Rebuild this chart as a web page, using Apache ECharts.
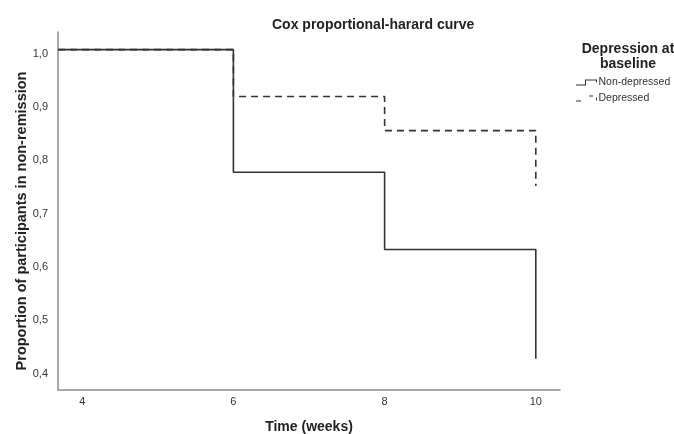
<!DOCTYPE html>
<html><head><meta charset="utf-8">
<script src="https://cdn.jsdelivr.net/npm/echarts@6/dist/echarts.min.js"></script>
<style>html,body{margin:0;padding:0;background:#fff}#c{width:674px;height:434px}</style>
</head><body><div id="c"></div>
<script>
const times = [3.68, 6, 8, 10];
const nonDepressed = [1.0, 0.77, 0.625, 0.42];
const depressed = [1.0, 0.912, 0.848, 0.744];
const xTicks = [4, 6, 8, 10];
const yTicks = [0.4, 0.5, 0.6, 0.7, 0.8, 0.9, 1.0];
const seriesNames = ['Non-depressed', 'Depressed'];

const font = 'Arial, "Liberation Sans", sans-serif';
const lineColor = '#333';
const solidIcon = 'path://M0,5 L9,5 L9,0 L21,0 L21,3 L20,3 L20,1 L10,1 L10,6 L0,6 Z';
const dashIcon = 'path://M0,5 L5,5 L5,6 L0,6 Z M13,0 L17,0 L17,1 L13,1 Z M20,2 L21,2 L21,5 L20,5 Z';

const chart = echarts.init(document.getElementById('c'));
chart.setOption({
  animation: false,
  backgroundColor: '#fff',
  textStyle: { fontFamily: font },
  title: [
    { text: 'Cox proportional-harard curve', left: 267, top: 13,
      textStyle: { fontFamily: font, fontSize: 14, fontWeight: 'bold', color: '#222' } },
    { text: 'Depression at\nbaseline', left: 623, top: 37, textAlign: 'center',
      textStyle: { fontFamily: font, fontSize: 14, fontWeight: 'bold', color: '#222', lineHeight: 15 } }
  ],
  legend: {
    orient: 'vertical', left: 571, top: 72, itemGap: 5, itemWidth: 22, itemHeight: 6,
    textStyle: { fontFamily: font, fontSize: 10.5, color: '#333', padding: [0, 0, 0, -4] },
    data: [
      { name: seriesNames[0], icon: solidIcon, itemStyle: { color: lineColor, borderWidth: 0 } },
      { name: seriesNames[1], icon: dashIcon, itemStyle: { color: lineColor, borderWidth: 0 } }
    ]
  },
  grid: { left: 58, right: 114, top: 32, bottom: 44, outerBoundsMode: 'none', containLabel: false },
  xAxis: {
    type: 'value', min: 3.68, max: 10.32,
    name: 'Time (weeks)', nameLocation: 'middle', nameGap: 30, nameMoveOverlap: false,
    nameTextStyle: { fontFamily: font, fontSize: 14, fontWeight: 'bold', color: '#222' },
    axisLine: { show: true, lineStyle: { color: '#8c8c8c', width: 1.5 } },
    axisTick: { show: false },
    splitLine: { show: false },
    axisLabel: { customValues: xTicks, color: '#333', fontSize: 11, margin: 6, fontFamily: font }
  },
  yAxis: {
    type: 'value', min: 0.3615, max: 1.033,
    name: 'Proportion of participants in non-remission', nameLocation: 'middle', nameGap: 29, nameMoveOverlap: false,
    nameTextStyle: { fontFamily: font, fontSize: 14.5, fontWeight: 'bold', color: '#222', padding: [0, 20, 0, 0] },
    axisLine: { show: true, lineStyle: { color: '#8c8c8c', width: 1.5 } },
    axisTick: { show: false },
    splitLine: { show: false },
    axisLabel: { customValues: yTicks, color: '#333', fontSize: 11, margin: 10, fontFamily: font,
      verticalAlign: 'top', lineHeight: 8,
      formatter: v => v.toFixed(1).replace('.', ',') }
  },
  series: [
    { name: seriesNames[0], type: 'line', step: 'end', showSymbol: false, symbol: 'none',
      data: times.map((t, i) => [t, nonDepressed[i]]),
      lineStyle: { color: lineColor, width: 1.6 }, itemStyle: { color: lineColor }, z: 3 },
    { name: seriesNames[1], type: 'line', step: 'end', showSymbol: false, symbol: 'none',
      data: times.map((t, i) => [t, depressed[i]]),
      lineStyle: { color: lineColor, width: 1.6, type: [7, 5] }, itemStyle: { color: lineColor }, z: 2 }
  ]
});
</script></body></html>
